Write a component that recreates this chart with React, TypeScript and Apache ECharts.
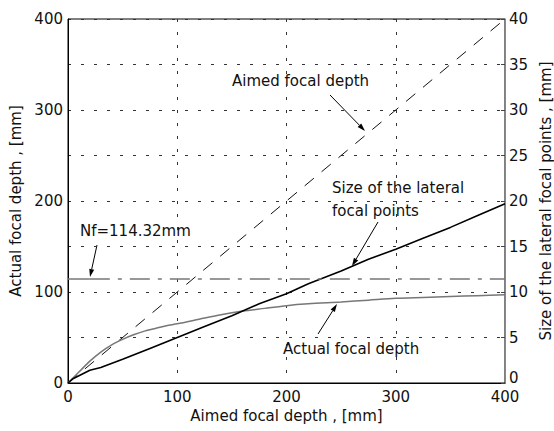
import React, { useEffect, useRef } from "react";
import * as echarts from "echarts";

const aimedX = [0, 400];
const aimedY = [0, 400];

const actualX = [0, 5, 10, 20, 30, 40, 50, 60, 70, 80, 90, 100, 120, 140, 160, 180, 200, 220, 250, 275, 300, 325, 350, 375, 400];
const actualY = [0, 6, 12, 24, 34, 42, 48, 53, 57, 60, 63, 65, 70, 75, 79, 82, 85, 87, 89, 91, 93, 94, 95, 96, 97];

const sizeX = [0, 5, 10, 20, 30, 50, 75, 100, 125, 150, 175, 200, 220, 250, 275, 300, 325, 350, 375, 400];
const sizeY = [0, 0.5, 0.8, 1.4, 1.7, 2.6, 3.8, 5, 6.2, 7.4, 8.7, 9.8, 10.9, 12.3, 13.6, 14.7, 15.9, 17.1, 18.4, 19.7];

const nfValue = 114.32;
const nfSolidX = [0, 20];
const nfDashX = [20, 400];

const xTicks = [0, 100, 200, 300, 400];
const leftTicks = [0, 100, 200, 300, 400];

const FONT = "DejaVu Sans, Verdana, sans-serif";

function arrow(x1: number, y1: number, x2: number, y2: number) {
  const ang = Math.atan2(y2 - y1, x2 - x1);
  const L = 8, W = 2.5;
  const bx = x2 - L * Math.cos(ang), by = y2 - L * Math.sin(ang);
  const px = -Math.sin(ang) * W, py = Math.cos(ang) * W;
  return [
    { type: "line", shape: { x1, y1, x2: bx, y2: by }, style: { stroke: "#000", lineWidth: 1 } },
    {
      type: "polygon",
      shape: { points: [[x2, y2], [bx + px, by + py], [bx - px, by - py]] },
      style: { fill: "#000" },
    },
  ];
}

export default function App() {
  const ref = useRef<HTMLDivElement>(null);
  useEffect(() => {
    const chart = echarts.init(ref.current!, null, { renderer: "svg" });
    const zip = (xs: number[], ys: number[]) => xs.map((x, i) => [x, ys[i]]);
    const textStyle = { fontFamily: FONT, fontSize: 15, fill: "#111" };
    const labelStyle = { fontFamily: FONT, fontSize: 15, color: "#111" };
    chart.setOption({
      animation: false,
      backgroundColor: "#fff",
      grid: {
        left: 68,
        right: 49,
        top: 19,
        bottom: 48,
        show: true,
        borderColor: "#000",
        borderWidth: 1,
        containLabel: false,
        outerBoundsMode: "none",
      },
      xAxis: {
        type: "value",
        min: 0,
        max: 400,
        interval: 100,
        name: "Aimed focal depth , [mm]",
        nameLocation: "middle",
        nameGap: 23,
        nameTextStyle: labelStyle,
        axisLine: { lineStyle: { color: "#000" } },
        axisTick: { show: false },
        axisLabel: {
          ...labelStyle,
          margin: 6,
          formatter: (v: number) => (xTicks.includes(v) ? String(v) : ""),
        },
        splitLine: { show: true, lineStyle: { color: "#333", type: [3, 10], width: 1 } },
      },
      yAxis: [
        {
          type: "value",
          min: 0,
          max: 400,
          interval: 50,
          name: "Actual focal depth , [mm]",
          nameLocation: "middle",
          nameRotate: 90,
          nameGap: 45,
          nameTextStyle: labelStyle,
          axisLine: { show: true, lineStyle: { color: "#000" } },
          axisTick: { show: false },
          axisLabel: {
            ...labelStyle,
            margin: 5,
            formatter: (v: number) => (leftTicks.includes(v) ? String(v) : ""),
          },
          splitLine: { show: true, lineStyle: { color: "#333", type: [3, 10], width: 1 } },
        },
        {
          type: "value",
          min: 0,
          max: 40,
          interval: 5,
          position: "right",
          name: "Size of the lateral focal points , [mm]",
          nameLocation: "middle",
          nameRotate: 90,
          nameGap: 32,
          nameTextStyle: labelStyle,
          axisLine: { show: true, lineStyle: { color: "#888" } },
          axisTick: { show: true, inside: true, length: 4, lineStyle: { color: "#444" } },
          axisLabel: {
            ...labelStyle,
            margin: 4,
            formatter: (v: number) => (v === 0 ? "{z|0}" : String(v)),
            rich: { z: { fontFamily: FONT, fontSize: 15, color: "#111", padding: [0, 0, 10, 0] } },
          },
          splitLine: { show: false },
        },
      ],
      series: [
        {
          type: "line",
          data: zip(aimedX, aimedY),
          yAxisIndex: 0,
          symbol: "none",
          lineStyle: { color: "#111", width: 1, type: [12, 10] },
        },
        {
          type: "line",
          data: zip(actualX, actualY),
          yAxisIndex: 0,
          symbol: "none",
          smooth: 0.3,
          lineStyle: { color: "#777", width: 1.5 },
        },
        {
          type: "line",
          data: zip(sizeX, sizeY),
          yAxisIndex: 1,
          symbol: "none",
          lineStyle: { color: "#000", width: 1.6 },
        },
        {
          type: "line",
          data: nfSolidX.map((x) => [x, nfValue]),
          yAxisIndex: 0,
          symbol: "none",
          lineStyle: { color: "#777", width: 1.5 },
        },
        {
          type: "line",
          data: nfDashX.map((x) => [x, nfValue]),
          yAxisIndex: 0,
          symbol: "none",
          lineStyle: { color: "#777", width: 1.5, type: [20, 8, 4, 8] },
        },
      ],
      graphic: [
        { type: "text", left: 232, top: 73, style: { ...textStyle, text: "Aimed focal depth" } },
        ...arrow(330, 95, 365, 131),
        { type: "text", left: 332, top: 180, style: { ...textStyle, text: "Size of the lateral" } },
        { type: "text", left: 332, top: 203, style: { ...textStyle, text: "focal points" } },
        ...arrow(378, 222, 352, 266),
        { type: "text", left: 283, top: 341, style: { ...textStyle, text: "Actual focal depth" } },
        ...arrow(318, 334, 337, 304),
        { type: "text", left: 80, top: 223, style: { ...textStyle, text: "Nf=114.32mm" } },
        ...arrow(97, 245, 90, 277),
      ],
    });
    return () => chart.dispose();
  }, []);
  return <div ref={ref} style={{ width: 554, height: 431, position: "absolute", left: 0, top: 0 }} />;
}
